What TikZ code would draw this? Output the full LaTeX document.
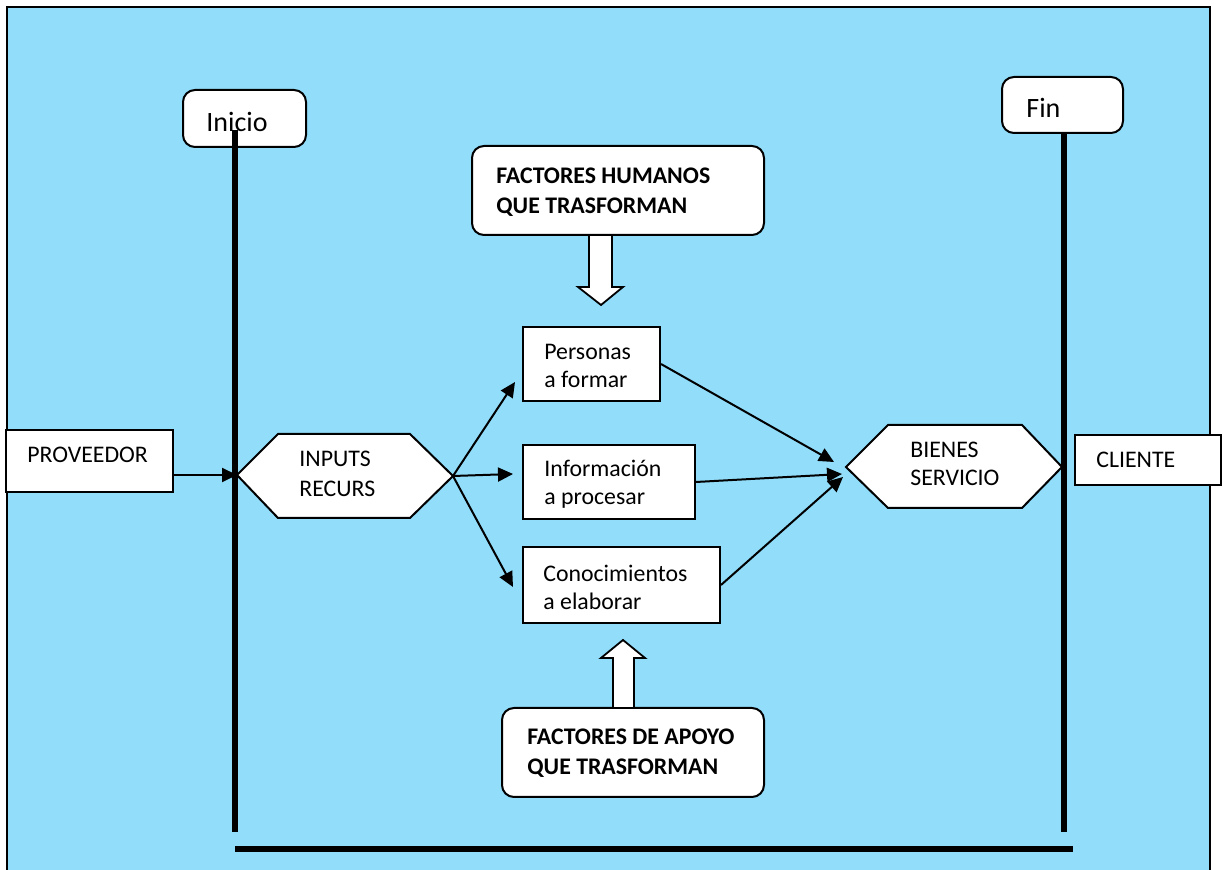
\documentclass[tikz,border=0pt]{standalone}
\usepackage{fontspec}
\setmainfont{Carlito}
\usetikzlibrary{arrows.meta, positioning}
\definecolor{skyfill}{RGB}{146,222,250}

\tikzset{
  box/.style={draw, fill=white, line width=1pt, inner sep=0pt},
  roundbox/.style={box, rounded corners=6pt},
  hexa/.style={draw, fill=white, line width=1pt},
  fatarrow/.style={draw, fill=white, line width=0.9pt},
  txt/.style={anchor=base west, inner sep=0pt, align=left, font=\fontsize{11.9}{14.2}\selectfont},
  bigtxt/.style={txt, font=\fontsize{14}{17}\selectfont},
  boldtxt/.style={txt, font=\fontsize{11.9}{15}\selectfont\bfseries},
  flow/.style={-{Triangle[length=7.5pt,width=7pt]}, line width=1pt},
  bar/.style={line width=3pt},
}

\begin{document}
\begin{tikzpicture}[x=0.5pt, y=-0.5pt]
    \useasboundingbox (0,0) rectangle (1227,870);

    % --- Background ---
    \fill[skyfill] (7,7) rectangle (1210,880);
    \draw[line width=0.8pt] (7,880) -- (7,7) -- (1210,7) -- (1210,880);

    % --- Start and end ---
    \node[roundbox, minimum width=61.5pt, minimum height=28.5pt] (inicio) at (244.5,118.5) {};
    \node[bigtxt] (inicio-t) at (206,132) {Inicio};
    \node[roundbox, minimum width=60.5pt, minimum height=28pt] (fin) at (1062.5,105) {};
    \node[bigtxt] (fin-t) at (1026,118) {Fin};

    % --- Supplier and client ---
    \node[box, minimum width=83.5pt, minimum height=31pt] (prov) at (89.5,461) {};
    \node[txt] (prov-t) at (27,463) {PROVEEDOR};
    \node[box, minimum width=73pt, minimum height=25pt] (cliente) at (1148,460) {};
    \node[txt] (cliente-t) at (1096,468) {CLIENTE};

    % --- Factors (text placed by its last baseline) ---
    \node[roundbox, minimum width=146pt, minimum height=44.5pt] (humanos) at (618,190.5) {};
    \node[boldtxt] (humanos-t) at (496,214) {FACTORES HUMANOS\\QUE TRASFORMAN};
    \node[roundbox, minimum width=131pt, minimum height=44.5pt] (apoyo) at (633,752.5) {};
    \node[boldtxt] (apoyo-t) at (527,775) {FACTORES DE APOYO\\QUE TRASFORMAN};

    % --- Block arrows ---
    \draw[fatarrow] (589,235) -- (589,287) -- (578,287) -- (601,305)
      -- (623,287) -- (612,287) -- (612,235) -- cycle;
    \draw[fatarrow] (613,708) -- (613,658) -- (601,658) -- (623,640)
      -- (645,658) -- (634,658) -- (634,708) -- cycle;

    % --- Middle boxes ---
    \node[box, minimum width=68.5pt, minimum height=37pt] (pers) at (591.5,364) {};
    \node[txt] (pers-t) at (544,388) {Personas\\a formar};
    \node[box, minimum width=86pt, minimum height=37pt] (info) at (609,482) {};
    \node[txt] (info-t) at (544,505) {Información\\a procesar};
    \node[box, minimum width=98.5pt, minimum height=38pt] (con) at (621.5,585) {};
    \node[txt] (con-t) at (543,610) {Conocimientos\\a elaborar};

    % --- Hexagons ---
    \coordinate (inL) at (237,475);
    \coordinate (inR) at (453,476);
    \draw[hexa] (inL) -- (278,434) -- (410,434) -- (inR) -- (410,518) -- (278,518) -- cycle;
    \node[txt, font=\fontsize{11.9}{15}\selectfont] (inputs-t) at (299,497) {INPUTS\\RECURS};
    \coordinate (biL) at (846,467);
    \coordinate (biR) at (1062,467);
    \draw[hexa] (biL) -- (888,425) -- (1022,425) -- (biR) -- (1022,508) -- (888,508) -- cycle;
    \node[txt] (bienes-t) at (910,486) {BIENES\\SERVICIO};

    % --- Thick frame lines ---
    \coordinate (s1) at (235,130);
    \coordinate (e1) at (235,832);
    \coordinate (s2) at (1064,133);
    \coordinate (e2) at (1064,832);
    \coordinate (b1) at (235,849);
    \coordinate (b2) at (1073,849);
    \draw[bar] (s1) -- (e1);
    \draw[bar] (s2) -- (e2);
    \draw[bar] (b1) -- (b2);

    % --- Flow arrows ---
    \coordinate (tP) at (515,382);
    \coordinate (tI) at (513,474);
    \coordinate (tC) at (513,587);
    \coordinate (bP) at (834,462);
    \coordinate (bI) at (842,474);
    \coordinate (bC) at (843,477);
    \draw[flow] (prov.east |- inL) -- (inL);
    \draw[flow] (inR) -- (tP);
    \draw[flow] (inR) -- (tI);
    \draw[flow] (inR) -- (tC);
    \draw[flow] (pers.east) -- (bP);
    \draw[flow] (info.east) -- (bI);
    \draw[flow] (con.east) -- (bC);
\end{tikzpicture}
\end{document}
